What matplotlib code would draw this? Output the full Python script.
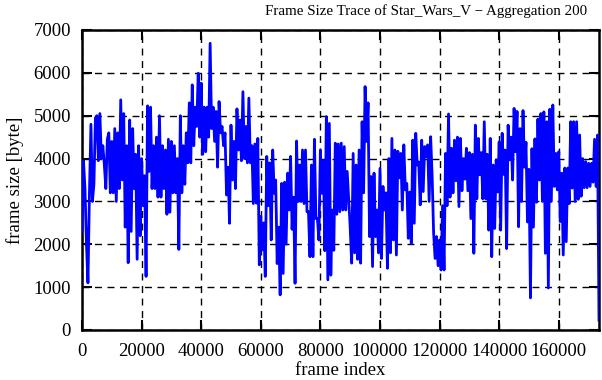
import numpy as np
import matplotlib
matplotlib.use("Agg")
import matplotlib.pyplot as plt

# frame sizes (pairs of upper / lower swing), left to right
sizes_0_30k = [2300, 3950, 3300, 2000, 1100, 3200, 4800, 3000, 3400, 4950,
               5000, 3950, 5050, 4000, 4300, 3850, 3300, 4450, 4600, 3200,
               4400, 3200, 4700, 3000, 4600, 3300, 5370, 3500, 5050, 2400,
               4300, 1570, 4900, 2300, 4700, 3300, 4100, 1650, 4300, 2200,
               4000, 2900, 3600, 1250, 5230, 3700, 5200, 3300, 4300, 3300,
               4500, 3100, 5000, 3100, 4300, 3300, 4200, 2700]
sizes_30k_58k = [4450, 2750, 4400, 3200, 4300, 3200, 4000, 1880, 5000, 3200,
                 4300, 3400, 4600, 3900, 5300, 3900, 5720, 4300, 5200, 4750,
                 5990, 4500, 5760, 4100, 5200, 4160, 5200, 4500, 6690, 4700,
                 5200, 4400, 5100, 3800, 5330, 4600, 4750, 4300, 4600, 3150,
                 3800, 2490, 4780, 3500, 4400, 3300, 5160, 4200, 4900, 3950,
                 5560, 4000, 4750, 3900, 5410, 3900, 4300, 2950]
sizes_58k_87k = [4340, 2960, 4470, 1520, 2650, 1870, 2500, 1250, 4050, 2900,
                 3900, 2100, 4200, 3190, 3500, 1550, 2400, 820, 3420, 1320,
                 3450, 2000, 3660, 2800, 4050, 2350, 3100, 1090, 4410, 3000,
                 3850, 3000, 4200, 2950, 4200, 2760, 2760, 1710, 3850, 1710,
                 4450, 2600, 2600, 2100, 4200, 3190, 3950, 1850, 4980, 1170,
                 4820, 1280, 2800, 1860, 4360, 2700, 4340, 2760]
sizes_87k_116k = [4360, 2800, 4280, 2800, 3700, 3070, 2400, 1560, 4120, 1800,
                  3850, 1650, 4200, 1560, 4860, 3200, 5680, 4400, 5300, 2180,
                  3580, 1480, 3660, 2180, 2800, 1800, 3770, 1670, 3350, 2800,
                  3200, 1440, 4000, 1800, 4470, 2100, 4200, 1750, 4170, 3550,
                  4120, 2800, 4320, 3270, 3420, 2140, 3220, 2020, 4430, 2490,
                  4590, 3850, 3920, 2920, 4430, 3230, 4280, 4050]
sizes_116k_145k = [4320, 3000, 4510, 3600, 2260, 1670, 2180, 1500, 2100, 1400,
                   2900, 1400, 4120, 2900, 5040, 3100, 4240, 3200, 4430, 3480,
                   4500, 2880, 4470, 3250, 4000, 3520, 4240, 3250, 4140, 2600,
                   4100, 1790, 4780, 3060, 4470, 3620, 4140, 3060, 4860, 3060,
                   4100, 2330, 4470, 1710, 3850, 2370, 3970, 3220, 4390, 2330,
                   4590, 3630, 4200, 1900, 4780, 3970, 4500, 3500]
sizes_145k_end = [5170, 4160, 5100, 2410, 4700, 3000, 5120, 3800, 4380, 2520,
                  3750, 750, 4230, 2400, 4460, 2980, 4920, 3500, 5050, 3000,
                  5090, 1790, 4860, 980, 5150, 3000, 5250, 3350, 4120, 3270,
                  4160, 2530, 3660, 1750, 3780, 2060, 3780, 2950, 4860, 3310,
                  4860, 3000, 4860, 3050, 4550, 3120, 4000, 3320, 3930, 3320,
                  3890, 3350, 3890, 3450, 4450, 3350, 4550, 230]

step = 500
xticks = [0, 20000, 40000, 60000, 80000, 100000, 120000, 140000, 160000]
yticks = [0, 1000, 2000, 3000, 4000, 5000, 6000, 7000]

sizes = np.array(sizes_0_30k + sizes_30k_58k + sizes_58k_87k +
                 sizes_87k_116k + sizes_116k_145k + sizes_145k_end)
frames = np.arange(len(sizes)) * step

plt.rcParams['font.family'] = ['Liberation Serif', 'DejaVu Serif']
plt.rcParams['font.size'] = 13.5

fig = plt.figure(figsize=(6.02, 3.80), dpi=100)
ax = fig.add_axes([82/602, 50/380, 517/602, 300/380])

ax.plot(frames, sizes, color=(0, 0, 1), lw=2.0, zorder=3)

ax.set_xlim(0, frames[-1])
ax.set_ylim(0, 7000)
ax.set_xticks(xticks)
ax.set_yticks(yticks)
ax.grid(True, color='black', lw=1.0, linestyle=(0, (5, 4)))
ax.tick_params(direction='in', length=7, width=1.5, top=True, right=True,
               labelsize=13.5)
ax.tick_params(axis='y', pad=8)
ax.tick_params(axis='x', pad=9)
for s in ax.spines.values():
    s.set_linewidth(1.8)

ax.set_xlabel('frame index', labelpad=2)
ax.set_ylabel('frame size [byte]', labelpad=7)
fig.text(426/602, 1 - 11/380, 'Frame Size Trace of Star_Wars_V \u2212 Aggregation 200',
         ha='center', va='center', fontsize=10.8)

fig.savefig('out.png', dpi=100)
